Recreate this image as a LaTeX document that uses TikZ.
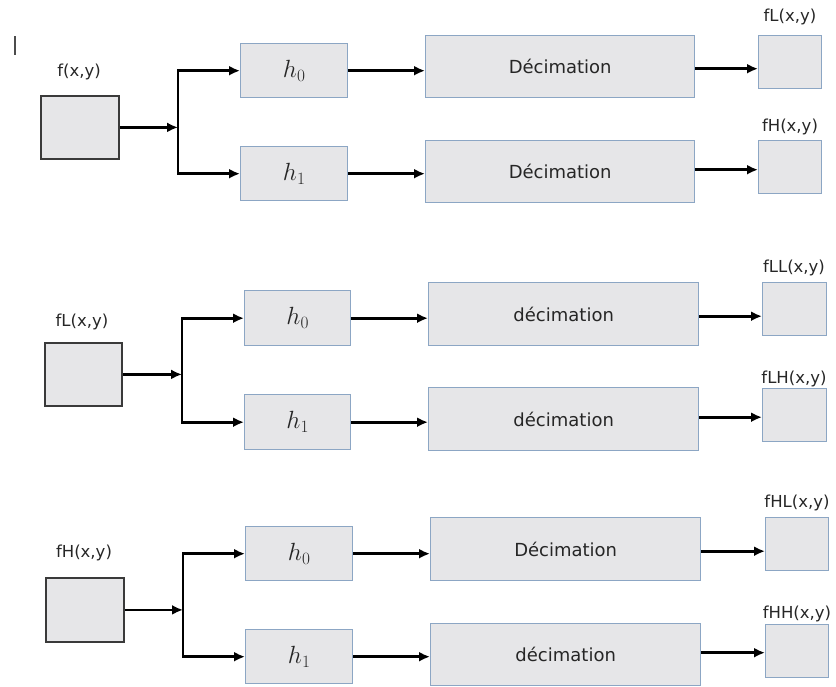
\documentclass[tikz,border=0pt]{standalone}
\usepackage{fontspec}
\newfontfamily\lab{DejaVu Sans}
\usetikzlibrary{arrows.meta}
\definecolor{boxfill}{HTML}{E6E6E8}
\definecolor{bluegray}{HTML}{8CA6C4}
\definecolor{darkedge}{HTML}{3A3A3A}
\tikzset{
  blk/.style={draw=bluegray, fill=boxfill, line width=1.4pt, inner sep=0pt, anchor=north west},
  inbox/.style={draw=darkedge, fill=boxfill, line width=1.8pt, inner sep=0pt, anchor=north west},
  hlab/.style={font=\fontsize{23}{25}\selectfont, text=black!85},
  dlab/.style={font=\lab\fontsize{18}{20}\selectfont, text=black!85},
  tag/.style={font=\lab\fontsize{16.5}{18}\selectfont, text=black!85, inner sep=0pt},
  arr/.style={line width=2.6pt, -{Latex[length=11pt,width=10pt]}},
}
\begin{document}
\begin{tikzpicture}[x=1pt,y=-1pt]
\useasboundingbox (0,0) rectangle (836,686);
% text cursor
\draw[line width=1.2pt, black!70] (15,36) -- (15,55);

% ---------- stage 1 : f(x,y) ----------
\node[inbox, minimum width=78pt, minimum height=63pt] (in1) at (40,95) {};
\node[tag] (t1) at (79,72) {f(x,y)};
\coordinate (j1) at (178,126);
\node[blk, minimum width=107pt, minimum height=54pt, hlab] (a1) at (240,43) {$h_0$};
\node[blk, minimum width=107pt, minimum height=54pt, hlab] (b1) at (240,146) {$h_1$};
\node[blk, minimum width=269pt, minimum height=62pt, dlab] (c1) at (425,35) {Décimation};
\node[blk, minimum width=269pt, minimum height=62pt, dlab] (d1) at (425,140) {Décimation};
\node[blk, minimum width=63pt, minimum height=53pt] (o1) at (758,35) {};
\node[blk, minimum width=63pt, minimum height=53pt] (p1) at (758,140) {};
\node[tag] (u1) at (790,17) {fL(x,y)};
\node[tag] (v1) at (790,127) {fH(x,y)};
\draw[arr] (in1.east) -- (in1.east -| j1);
\draw[arr] (j1) |- (a1.west);
\draw[arr] (j1) |- (b1.west);
\draw[arr] (a1.east) -- (a1.east -| c1.west);
\draw[arr] (b1.east) -- (b1.east -| d1.west);
\draw[arr] ([yshift=-2pt]c1.east) -- ([yshift=-2pt]c1.east -| o1.west);
\draw[arr] ([yshift=2pt]d1.east) -- ([yshift=2pt]d1.east -| p1.west);

% ---------- stage 2 : fL(x,y) ----------
\node[inbox, minimum width=77pt, minimum height=63pt] (in2) at (44,342) {};
\node[tag] (t2) at (82,322) {fL(x,y)};
\coordinate (j2) at (182,373);
\node[blk, minimum width=106pt, minimum height=55pt, hlab] (a2) at (244,290) {$h_0$};
\node[blk, minimum width=106pt, minimum height=55pt, hlab] (b2) at (244,394) {$h_1$};
\node[blk, minimum width=270pt, minimum height=63pt, dlab] (c2) at (428,282) {décimation};
\node[blk, minimum width=270pt, minimum height=63pt, dlab] (d2) at (428,387) {décimation};
\node[blk, minimum width=64pt, minimum height=53pt] (o2) at (762,282) {};
\node[blk, minimum width=64pt, minimum height=53pt] (p2) at (762,388) {};
\node[tag] (u2) at (794,268) {fLL(x,y)};
\node[tag] (v2) at (794,379) {fLH(x,y)};
\draw[arr] (in2.east) -- (in2.east -| j2);
\draw[arr] (j2) |- (a2.west);
\draw[arr] (j2) |- (b2.west);
\draw[arr] (a2.east) -- (a2.east -| c2.west);
\draw[arr] (b2.east) -- (b2.east -| d2.west);
\draw[arr] ([yshift=-2pt]c2.east) -- ([yshift=-2pt]c2.east -| o2.west);
\draw[arr] ([yshift=2pt]d2.east) -- ([yshift=2pt]d2.east -| p2.west);

% ---------- stage 3 : fH(x,y) ----------
\node[inbox, minimum width=78pt, minimum height=64pt] (in3) at (45,577) {};
\node[tag] (t3) at (84,553) {fH(x,y)};
\coordinate (j3) at (183,607);
\node[blk, minimum width=107pt, minimum height=54pt, hlab] (a3) at (245,526) {$h_0$};
\node[blk, minimum width=107pt, minimum height=54pt, hlab] (b3) at (245,629) {$h_1$};
\node[blk, minimum width=270pt, minimum height=63pt, dlab] (c3) at (430,517) {Décimation};
\node[blk, minimum width=270pt, minimum height=62pt, dlab] (d3) at (430,623) {décimation};
\node[blk, minimum width=63pt, minimum height=53pt] (o3) at (765,517) {};
\node[blk, minimum width=63pt, minimum height=53pt] (p3) at (765,624) {};
\node[tag] (u3) at (797,503) {fHL(x,y)};
\node[tag] (v3) at (797,614) {fHH(x,y)};
\draw[arr] (in3.east) -- (in3.east -| j3);
\draw[arr] (j3) |- (a3.west);
\draw[arr] (j3) |- (b3.west);
\draw[arr] (a3.east) -- (a3.east -| c3.west);
\draw[arr] (b3.east) -- (b3.east -| d3.west);
\draw[arr] ([yshift=-2pt]c3.east) -- ([yshift=-2pt]c3.east -| o3.west);
\draw[arr] ([yshift=2pt]d3.east) -- ([yshift=2pt]d3.east -| p3.west);
\end{tikzpicture}
\end{document}
